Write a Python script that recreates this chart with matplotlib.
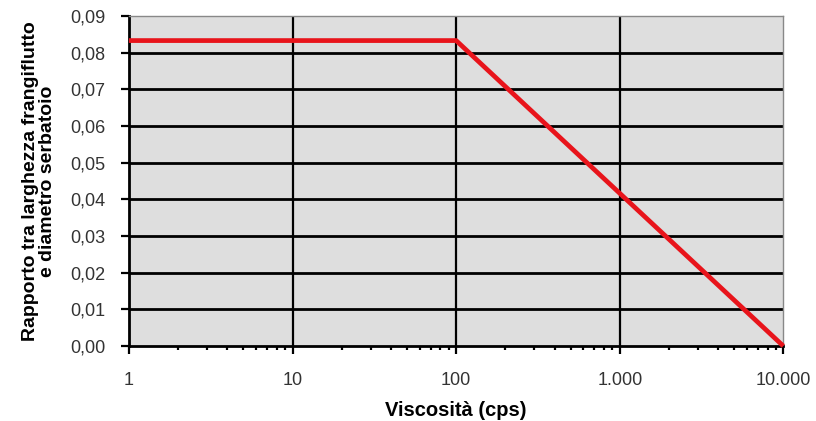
import matplotlib.pyplot as plt
import numpy as np
from matplotlib.ticker import FixedLocator, LogLocator, NullFormatter

plt.rcParams['font.family'] = ['Liberation Sans', 'DejaVu Sans']

# data
viscosity = [1, 100, 10000]           # cps
ratio = [0.0833, 0.0833, 0.0]         # baffle width / tank diameter

y_ticks = [0.00, 0.01, 0.02, 0.03, 0.04, 0.05, 0.06, 0.07, 0.08, 0.09]
y_labels = ['0,00', '0,01', '0,02', '0,03', '0,04', '0,05', '0,06', '0,07', '0,08', '0,09']
x_ticks = [1, 10, 100, 1000, 10000]
x_labels = ['1', '10', '100', '1.000', '10.000']

fig = plt.figure(figsize=(8.16, 4.21), dpi=100)
ax = fig.add_axes([0.158, 0.178, 0.802, 0.784])
ax.set_facecolor('#dedede')

ax.set_xscale('log')
ax.set_xlim(1, 10000)
ax.set_ylim(0, 0.09)

# grid
for y in y_ticks[1:-1]:
    ax.axhline(y, color='black', lw=2.0, zorder=1)
for x in x_ticks[1:-1]:
    ax.axvline(x, color='black', lw=1.6, zorder=1)

ax.plot(viscosity, ratio, color='#e8141b', lw=3.4, solid_capstyle='butt', zorder=3, clip_on=False)

ax.yaxis.set_major_locator(FixedLocator(y_ticks))
ax.set_yticklabels(y_labels)
ax.xaxis.set_major_locator(FixedLocator(x_ticks))
ax.set_xticklabels(x_labels)
ax.xaxis.set_minor_locator(LogLocator(base=10, subs=np.arange(2, 10)))
ax.xaxis.set_minor_formatter(NullFormatter())

ax.tick_params(axis='both', which='major', direction='out', length=6, width=1.6,
               labelsize=13, labelcolor='#333333')
ax.tick_params(axis='x', which='major', pad=13)
ax.tick_params(axis='y', which='major', pad=11)
ax.tick_params(axis='x', which='minor', direction='out', length=3, width=1.6)

for s in ['left', 'bottom']:
    ax.spines[s].set_linewidth(2.0)
    ax.spines[s].set_color('black')
for s in ['top', 'right']:
    ax.spines[s].set_linewidth(1.0)
    ax.spines[s].set_color('#888888')

ax.set_xlabel('Viscosità (cps)', fontsize=14.5, fontweight='bold', labelpad=8)
ax.set_ylabel('Rapporto tra larghezza frangiflutto\ne diametro serbatoio',
              fontsize=14, fontweight='bold', labelpad=10, linespacing=1.05)

fig.savefig('out.png', dpi=100)
